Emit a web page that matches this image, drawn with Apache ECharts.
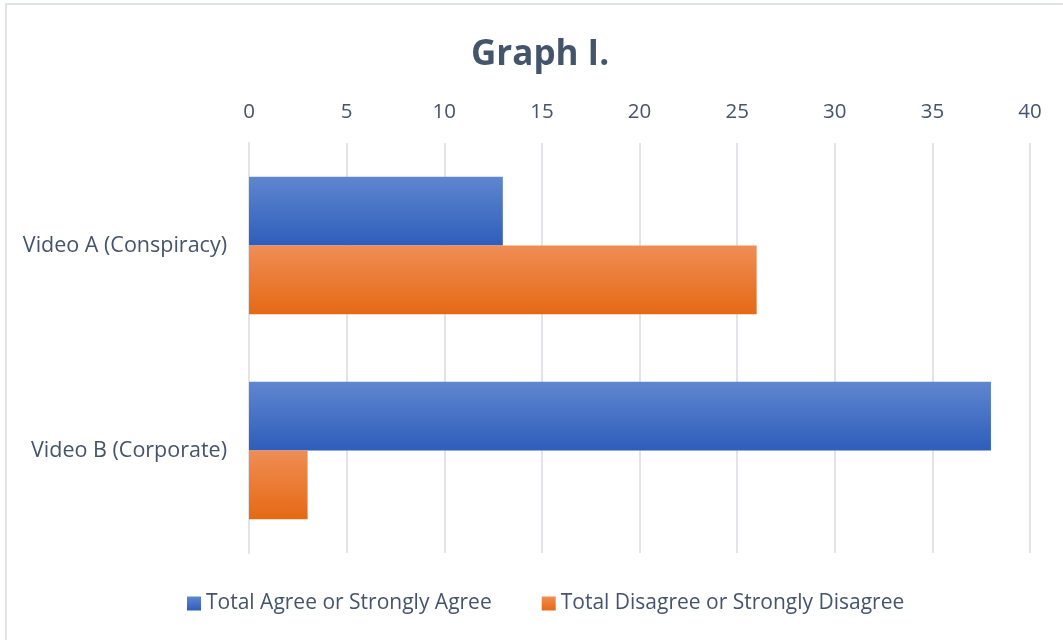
<!DOCTYPE html>
<html>
<head>
<meta charset="utf-8">
<script src="https://cdn.jsdelivr.net/npm/echarts@6/dist/echarts.min.js"></script>
<style>
  html, body { margin: 0; padding: 0; background: #fff; }
  #main { width: 1063px; height: 640px; }
</style>
</head>
<body>
<div id="main"></div>
<script>
// categories and values
var categories = ['Video A (Conspiracy)', 'Video B (Corporate)'];
var agreeData = [13, 38];
var disagreeData = [26, 3];
var xTicks = [0, 40, 5]; // min, max, interval

var textColor = '#44546a';
var fontFam = '"Open Sans", "Noto Sans", sans-serif';

function grad(top, bottom) {
    return new echarts.graphic.LinearGradient(0, 0, 0, 1, [
        { offset: 0, color: top },
        { offset: 1, color: bottom }
    ]);
}

var myChart = echarts.init(document.getElementById('main'));
var option = {
    backgroundColor: '#fff',
    animation: false,
    graphic: [{
        type: 'rect',
        shape: { x: 6, y: 4, width: 1100, height: 700 },
        style: { fill: 'none', stroke: '#dfe3e8', lineWidth: 2 },
        silent: true
    }],
    title: {
        text: 'Graph I.',
        left: 466,
        top: 33,
        textStyle: { color: textColor, fontSize: 35, fontWeight: 'bold', fontFamily: fontFam }
    },
    legend: {
        bottom: 21,
        left: 182,
        itemWidth: 14,
        itemHeight: 14,
        itemGap: 50,
        icon: 'rect',
        textStyle: { color: textColor, fontSize: 21, fontFamily: fontFam },
        data: ['Total Agree or Strongly Agree', 'Total Disagree or Strongly Disagree']
    },
    grid: { left: 249, right: 33, top: 143, bottom: 87, containLabel: false },
    xAxis: {
        type: 'value',
        position: 'top',
        min: xTicks[0],
        max: xTicks[1],
        interval: xTicks[2],
        axisLine: { show: false },
        axisTick: { show: false },
        axisLabel: { color: textColor, fontSize: 20.5, fontFamily: fontFam, margin: 20 },
        splitLine: { lineStyle: { color: '#e1e4e9', width: 2 } }
    },
    yAxis: {
        type: 'category',
        inverse: true,
        data: categories,
        axisLine: { show: true, lineStyle: { color: '#e1e4e9', width: 2 } },
        axisTick: { show: false },
        axisLabel: { color: textColor, fontSize: 21.5, fontFamily: fontFam, margin: 22 }
    },
    series: [
        {
            name: 'Total Agree or Strongly Agree',
            type: 'bar',
            data: agreeData,
            barGap: '0%',
            barCategoryGap: '33%',
            itemStyle: { color: grad('#5f86cf', '#2e5dbb') }
        },
        {
            name: 'Total Disagree or Strongly Disagree',
            type: 'bar',
            data: disagreeData,
            barGap: '0%',
            barCategoryGap: '33%',
            itemStyle: { color: grad('#f08d55', '#e56914') }
        }
    ]
};
myChart.setOption(option);
</script>
</body>
</html>
